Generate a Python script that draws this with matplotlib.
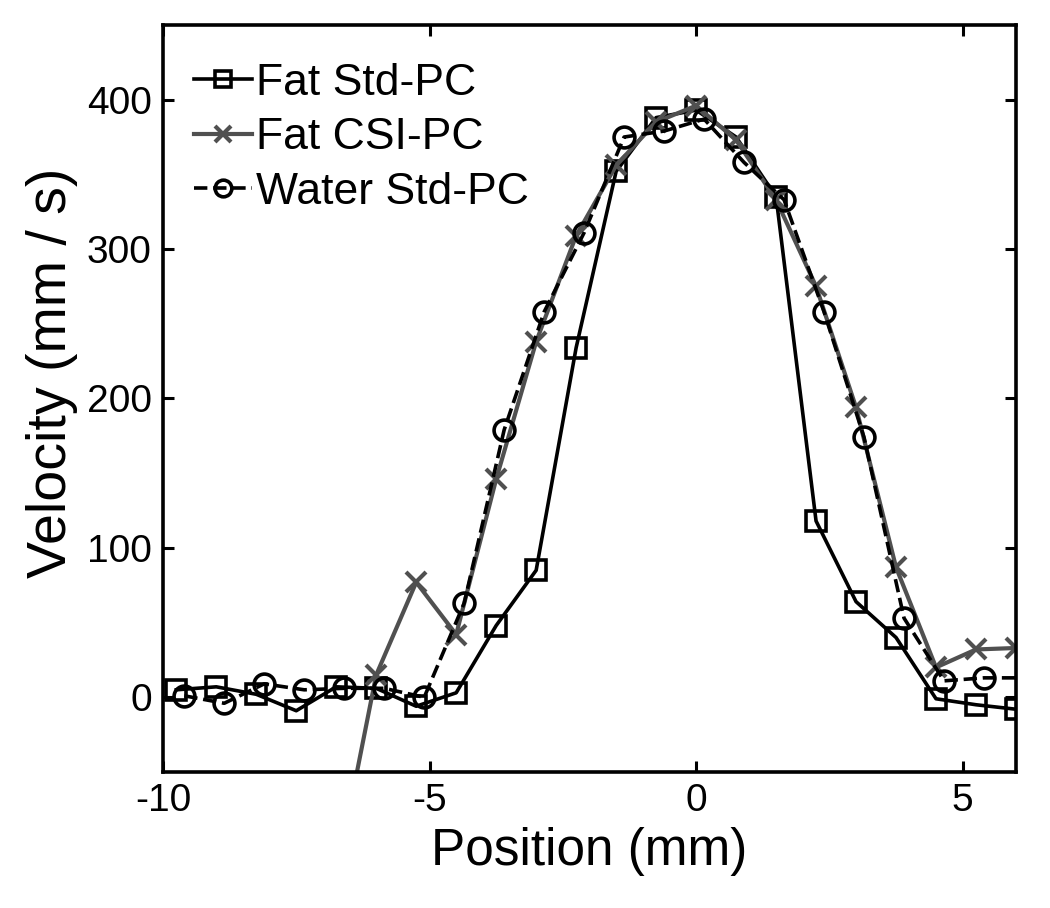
import matplotlib
matplotlib.use("Agg")
import matplotlib.pyplot as plt
import numpy as np

plt.rcParams['font.family'] = ['Liberation Sans', 'DejaVu Sans']
plt.rcParams['axes.unicode_minus'] = False

# Fat Std-PC (squares)
fat_std_x = [-9.75, -9.0, -8.25, -7.5, -6.75, -6.0, -5.25, -4.5, -3.75, -3.0, -2.25,
             -1.5, -0.75, 0.0, 0.75, 1.5, 2.25, 3.0, 3.75, 4.5, 5.25, 6.0]
fat_std_y = [5, 7, 2, -9, 7, 6, -6, 3, 48, 85, 234,
             352, 388, 393, 375, 335, 118, 64, 40, -1, -5, -8]

# Fat CSI-PC (crosses)
fat_csi_x = [-6.75, -6.0, -5.25, -4.5, -3.75, -3.0, -2.25, -1.5, -0.75, 0.0,
             0.75, 1.5, 2.25, 3.0, 3.75, 4.5, 5.25, 6.0]
fat_csi_y = [-120, 15, 77, 42, 146, 238, 309, 356, 385, 396,
             373, 333, 275, 194, 87, 20, 32, 33]

# Water Std-PC (circles)
water_x = [-9.6, -8.85, -8.1, -7.35, -6.6, -5.85, -5.1, -4.35, -3.6, -2.85, -2.1,
           -1.35, -0.6, 0.15, 0.9, 1.65, 2.4, 3.15, 3.9, 4.65, 5.4, 6.15]
water_y = [1, -4, 9, 5, 6, 6, 0, 63, 179, 258, 311,
           375, 379, 387, 358, 333, 258, 174, 53, 11, 13, 13]

labels = ['Fat Std-PC', 'Fat CSI-PC', 'Water Std-PC']
x_ticks = [-10, -5, 0, 5]
y_ticks = [0, 100, 200, 300, 400]

fig = plt.figure(figsize=(10.5, 9.08), dpi=100)
ax = fig.add_axes([0.1552, 0.1498, 0.8124, 0.8227])

grey = '#505050'
ax.plot(fat_std_x, fat_std_y, '-', color='black', lw=2.6, marker='s', ms=14,
        mfc='none', mec='black', mew=2.6, label=labels[0])
ax.plot(fat_csi_x, fat_csi_y, '-', color=grey, lw=3.0, marker='x', ms=15,
        mec=grey, mew=3.0, label=labels[1])
ax.plot(water_x, water_y, '--', color='black', lw=2.6, marker='o', ms=15,
        mfc='none', mec='black', mew=2.6, label=labels[2],
        markevery=list(range(len(water_x) - 1)))

ax.set_xlim(-10, 6)
ax.set_ylim(-50, 450)
ax.set_xticks(x_ticks)
ax.set_yticks(y_ticks)
ax.tick_params(direction='in', length=8, width=2.2, top=True, right=True,
               labelsize=28, pad=8)
for s in ax.spines.values():
    s.set_linewidth(2.6)

ax.set_xlabel('Position (mm)', fontsize=37, labelpad=6)
ax.set_ylabel('Velocity (mm / s)', fontsize=40)
ax.yaxis.set_label_coords(-0.1, 0.535)

leg = ax.legend(loc='upper left', bbox_to_anchor=(0.005, 0.985), frameon=False,
                fontsize=32, handlelength=1.3, handletextpad=0.1,
                labelspacing=0.3, borderaxespad=0.2, markerscale=0.8)

fig.savefig('out.png', dpi=100)
